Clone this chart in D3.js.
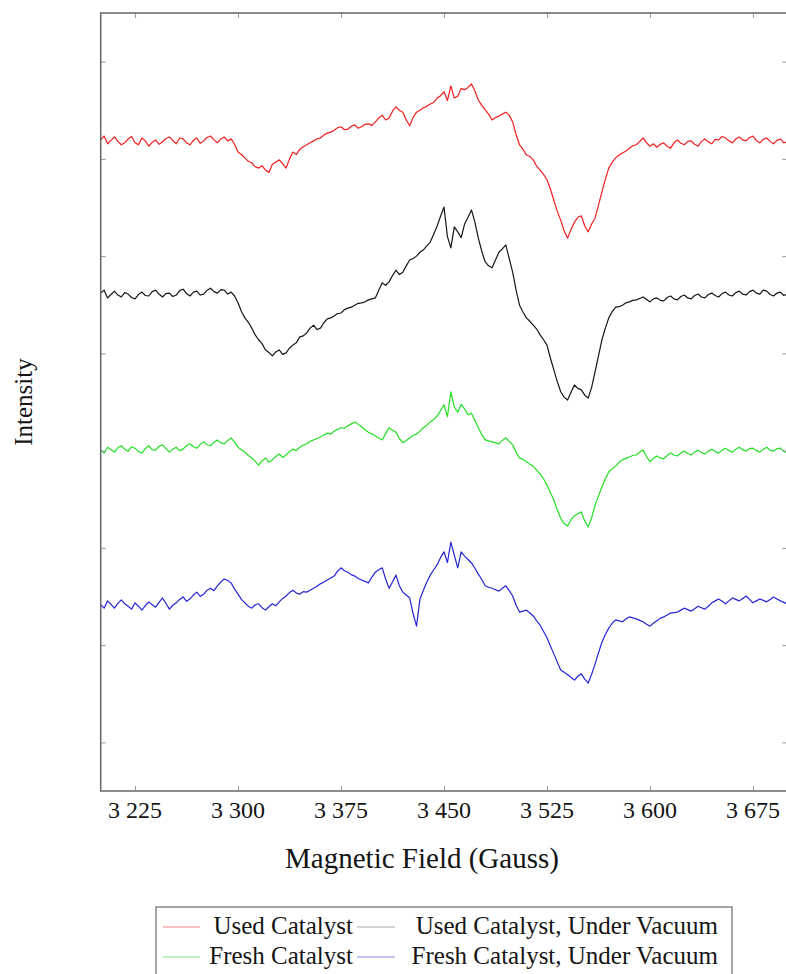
<!DOCTYPE html>
<html>
<head>
<meta charset="utf-8">
<script src="https://cdn.jsdelivr.net/npm/d3@7"></script>
<style>
  html, body { margin: 0; padding: 0; background: #fff; }
  svg text { font-family: "Liberation Serif", "DejaVu Serif", serif; fill: #141414; }
</style>
</head>
<body>
<div id="graph-1"></div>
<script>

/**
 * Data (2.5 G steps from 3200 to 3700 G)
 */
var field = d3.range(3200, 3700.1, 2.5);

var usedCatalyst = [
    13.39,13.47,13.31,13.38,13.45,13.36,13.29,13.33,13.41,13.46,13.33,13.29,13.43,13.37,13.26,13.34,13.39,13.30,13.35,13.42,
    13.45,13.38,13.31,13.43,13.41,13.33,13.29,13.38,13.43,13.32,13.37,13.44,13.47,13.39,13.33,13.41,13.45,13.37,13.41,13.30,
    13.14,13.09,13.02,12.95,12.92,12.84,12.81,12.86,12.77,12.72,12.89,12.93,12.98,12.90,12.81,13.00,13.14,13.09,13.20,13.25,
    13.29,13.33,13.37,13.41,13.43,13.49,13.53,13.55,13.59,13.64,13.66,13.60,13.61,13.67,13.70,13.63,13.66,13.71,13.72,13.69,
    13.76,13.84,13.90,13.80,13.84,13.98,14.07,14.00,13.96,13.80,13.68,13.85,13.96,14.00,14.05,14.08,14.13,14.16,14.25,14.30,
    14.38,14.20,14.50,14.25,14.29,14.45,14.42,14.47,14.54,14.40,14.21,14.10,14.01,13.92,13.80,13.85,13.88,13.92,13.96,13.90,
    13.76,13.50,13.29,13.20,13.08,13.05,12.98,12.85,12.77,12.68,12.57,12.38,12.15,11.92,11.74,11.52,11.37,11.55,11.70,11.80,
    11.83,11.62,11.50,11.66,11.78,12.05,12.32,12.58,12.81,12.93,13.02,13.08,13.12,13.16,13.22,13.27,13.29,13.36,13.43,13.33,
    13.26,13.31,13.24,13.30,13.33,13.26,13.22,13.33,13.39,13.32,13.29,13.36,13.37,13.30,13.26,13.36,13.41,13.35,13.31,13.40,
    13.39,13.46,13.43,13.37,13.33,13.41,13.45,13.39,13.37,13.44,13.47,13.38,13.33,13.40,13.43,13.36,13.31,13.38,13.41,13.33,
    13.35
];

var usedVacuum = [
    10.24,10.30,10.14,10.21,10.28,10.20,10.16,10.25,10.22,10.15,10.12,10.21,10.26,10.19,10.18,10.27,10.30,10.22,10.16,10.23,
    10.24,10.17,10.20,10.29,10.32,10.23,10.18,10.26,10.28,10.20,10.22,10.30,10.34,10.27,10.24,10.31,10.30,10.22,10.26,10.18,
    10.04,9.86,9.73,9.64,9.52,9.38,9.28,9.20,9.07,9.02,8.95,9.03,9.07,8.98,9.01,9.11,9.17,9.22,9.34,9.36,
    9.42,9.52,9.58,9.49,9.52,9.63,9.71,9.73,9.77,9.82,9.83,9.90,9.93,9.95,9.99,10.03,10.04,10.06,10.10,10.12,
    10.14,10.30,10.45,10.40,10.47,10.60,10.71,10.62,10.67,10.80,10.92,10.95,11.00,11.08,11.13,11.21,11.29,11.45,11.62,11.82,
    12.01,11.40,11.17,11.60,11.50,11.38,11.66,11.80,11.95,11.70,11.37,11.10,10.88,10.80,10.76,10.92,11.08,11.15,11.23,10.95,
    10.67,10.30,9.99,9.85,9.73,9.66,9.58,9.50,9.38,9.28,9.17,8.90,8.66,8.42,8.21,8.10,8.04,8.20,8.35,8.28,
    8.25,8.14,8.08,8.30,8.62,8.95,9.28,9.52,9.73,9.86,9.95,9.96,9.99,10.04,10.06,10.09,10.10,10.13,10.16,10.11,
    10.06,10.12,10.14,10.09,10.08,10.15,10.18,10.12,10.10,10.17,10.20,10.14,10.12,10.19,10.22,10.16,10.14,10.21,10.24,10.19,
    10.16,10.23,10.26,10.20,10.18,10.25,10.28,10.22,10.20,10.27,10.30,10.24,10.22,10.30,10.28,10.21,10.18,10.24,10.26,10.19,
    10.22
];

var freshCatalyst = [
    7.01,6.95,7.07,7.02,6.97,7.06,7.10,7.03,6.99,7.08,7.05,6.98,6.95,7.04,7.10,7.02,7.01,7.09,7.12,7.04,
    6.97,7.03,7.07,7.00,7.03,7.10,7.14,7.08,7.05,7.13,7.18,7.12,7.10,7.17,7.22,7.16,7.14,7.21,7.26,7.17,
    7.07,7.02,6.97,6.90,6.85,6.78,6.70,6.79,6.85,6.76,6.81,6.88,6.93,6.86,6.91,6.98,7.03,7.00,7.07,7.11,
    7.14,7.19,7.22,7.25,7.28,7.32,7.36,7.34,7.40,7.44,7.47,7.46,7.51,7.55,7.59,7.54,7.49,7.43,7.38,7.34,
    7.30,7.26,7.22,7.35,7.47,7.42,7.38,7.25,7.16,7.21,7.26,7.31,7.34,7.40,7.47,7.52,7.59,7.64,7.71,7.82,
    7.94,7.70,8.21,7.90,7.79,7.95,7.86,7.74,7.77,7.62,7.47,7.33,7.22,7.20,7.18,7.16,7.14,7.21,7.26,7.19,
    7.12,6.97,6.85,6.82,6.77,6.72,6.68,6.60,6.52,6.42,6.29,6.14,5.98,5.78,5.61,5.50,5.45,5.58,5.66,5.70,
    5.74,5.55,5.43,5.62,5.88,6.07,6.25,6.42,6.56,6.63,6.68,6.76,6.81,6.84,6.87,6.90,6.91,6.97,7.01,6.88,
    6.77,6.84,6.89,6.85,6.83,6.90,6.95,6.91,6.89,6.95,6.99,6.94,6.91,6.97,7.01,6.96,6.93,6.99,7.03,6.98,
    6.95,7.01,7.05,7.00,6.97,7.03,7.07,7.02,6.99,7.04,7.05,7.00,6.97,7.03,7.07,7.01,6.99,7.04,7.05,6.99,
    6.95
];

var freshVacuum = [
    3.83,3.76,3.91,3.84,3.76,3.86,3.93,3.85,3.80,3.74,3.87,3.80,3.72,3.81,3.89,3.83,3.78,3.88,3.97,3.86,
    3.74,3.82,3.87,3.94,3.99,3.90,3.95,4.03,4.09,4.00,4.05,4.13,4.17,4.12,4.22,4.30,4.36,4.33,4.28,4.15,
    4.05,3.94,3.87,3.80,3.76,3.83,3.85,3.77,3.72,3.79,3.85,3.81,3.89,3.96,4.01,4.08,4.13,4.07,4.05,4.10,
    4.09,4.13,4.17,4.21,4.26,4.30,4.34,4.38,4.42,4.52,4.59,4.53,4.50,4.45,4.42,4.37,4.34,4.31,4.28,4.40,
    4.50,4.55,4.59,4.36,4.17,4.30,4.44,4.22,4.09,4.03,3.97,3.65,3.39,3.95,4.13,4.30,4.44,4.55,4.65,4.80,
    4.92,4.70,5.12,4.85,4.59,4.92,4.83,4.76,4.69,4.58,4.46,4.35,4.22,4.19,4.17,4.14,4.11,4.17,4.22,4.12,
    4.01,3.82,3.68,3.70,3.72,3.66,3.60,3.50,3.41,3.28,3.15,2.98,2.82,2.65,2.49,2.44,2.39,2.34,2.28,2.36,
    2.41,2.30,2.22,2.40,2.61,2.84,3.06,3.22,3.35,3.45,3.52,3.50,3.48,3.54,3.58,3.56,3.54,3.51,3.48,3.43,
    3.39,3.45,3.50,3.55,3.58,3.62,3.66,3.67,3.68,3.72,3.76,3.73,3.70,3.75,3.80,3.77,3.74,3.80,3.87,3.91,
    3.95,3.90,3.85,3.91,3.97,3.94,3.91,3.96,4.01,3.94,3.87,3.91,3.95,3.92,3.89,3.94,3.99,3.95,3.91,3.88,
    3.85
];

var seriesNames = ["Used Catalyst", "Used Catalyst, Under Vacuum", "Fresh Catalyst", "Fresh Catalyst, Under Vacuum"];
var seriesColors = ["#f01e1e", "#151515", "#22df22", "#2424d6"];
var legendColors = ["#f6a9a9", "#c4c4c4", "#a9f0a9", "#aeaee8"];

var xTicks = [3225, 3300, 3375, 3450, 3525, 3600, 3675];
var xTickLabels = ["3 225", "3 300", "3 375", "3 450", "3 525", "3 600", "3 675"];
var yTicks = [1, 3, 5, 7, 9, 11, 13, 15];

/**
 * Layout
 */
var svg_width = 786, svg_height = 974;
var plotLeft = 100.7, plotTop = 13, plotW = 686.6, plotH = 778;

var x = d3.scaleLinear().domain([3200, 3700]).range([plotLeft, plotLeft + plotW]);
var y = d3.scaleLinear().domain([0, 16]).range([plotTop + plotH, plotTop]);

var svg = d3.select('#graph-1').append('svg')
    .attr('width', svg_width)
    .attr('height', svg_height);

svg.append('defs').append('clipPath').attr('id', 'plotClip')
    .append('rect')
    .attr('x', plotLeft).attr('y', plotTop)
    .attr('width', plotW).attr('height', plotH);

// spectra
var line = d3.line()
    .x(function (d, i) { return x(field[i]); })
    .y(function (d) { return y(d); });

var allSeries = [usedCatalyst, usedVacuum, freshCatalyst, freshVacuum];

svg.append('g').attr('clip-path', 'url(#plotClip)')
    .selectAll('path')
    .data(allSeries)
    .enter()
    .append('path')
    .attr('d', line)
    .attr('fill', 'none')
    .attr('stroke', function (d, i) { return seriesColors[i]; })
    .attr('stroke-width', 1.2)
    .attr('stroke-linejoin', 'round');

// axes: ticks inside on all four sides, no y labels
var tickLen = 5;
var xBottom = d3.axisBottom(x).tickValues(xTicks).tickSize(-tickLen).tickFormat('');
var xTop = d3.axisTop(x).tickValues(xTicks).tickSize(-tickLen).tickFormat('');
var yLeft = d3.axisLeft(y).tickValues(yTicks).tickSize(-tickLen).tickFormat('');
var yRight = d3.axisRight(y).tickValues(yTicks).tickSize(-tickLen).tickFormat('');

svg.append('g').attr('transform', 'translate(0,' + (plotTop + plotH) + ')').call(xBottom);
svg.append('g').attr('transform', 'translate(0,' + plotTop + ')').call(xTop);
svg.append('g').attr('transform', 'translate(' + plotLeft + ',0)').call(yLeft);
svg.append('g').attr('transform', 'translate(' + (plotLeft + plotW) + ',0)').call(yRight);

svg.selectAll('.domain').remove();
svg.selectAll('.tick line').attr('stroke', '#999').attr('stroke-width', 1);

// frame
svg.append('rect')
    .attr('x', plotLeft).attr('y', plotTop)
    .attr('width', plotW).attr('height', plotH)
    .attr('fill', 'none')
    .attr('stroke', '#666')
    .attr('stroke-width', 1.5);

// x tick labels
svg.append('g').selectAll('text')
    .data(xTicks)
    .enter()
    .append('text')
    .attr('x', function (d) { return x(d); })
    .attr('y', 818)
    .attr('text-anchor', 'middle')
    .style('font-size', '24px')
    .text(function (d, i) { return xTickLabels[i]; });

// axis titles
svg.append('text')
    .attr('x', 422).attr('y', 868)
    .attr('text-anchor', 'middle')
    .style('font-size', '29px')
    .text('Magnetic Field (Gauss)');

svg.append('text')
    .attr('transform', 'translate(32,' + (plotTop + plotH / 2) + ') rotate(-90)')
    .attr('text-anchor', 'middle')
    .style('font-size', '25px')
    .text('Intensity');

/**
 * Legend: 2 x 2, order by column
 */
var legend = svg.append('g');
legend.append('rect')
    .attr('x', 156).attr('y', 907)
    .attr('width', 576).attr('height', 80)
    .attr('fill', '#fff')
    .attr('stroke', '#777')
    .attr('stroke-width', 1.3);

var lineStart = [163, 357], lineEnd = [200, 395], textEnd = [353, 718];
var rowY = [927, 957];

seriesNames.forEach(function (name, i) {
    var col = i % 2, row = Math.floor(i / 2);
    legend.append('line')
        .attr('x1', lineStart[col]).attr('x2', lineEnd[col])
        .attr('y1', rowY[row]).attr('y2', rowY[row])
        .attr('stroke', legendColors[i])
        .attr('stroke-width', 1.5);
    legend.append('text')
        .attr('x', textEnd[col]).attr('y', rowY[row] + 7)
        .attr('text-anchor', 'end')
        .style('font-size', '25px')
        .text(name);
});

</script>
</body>
</html>
